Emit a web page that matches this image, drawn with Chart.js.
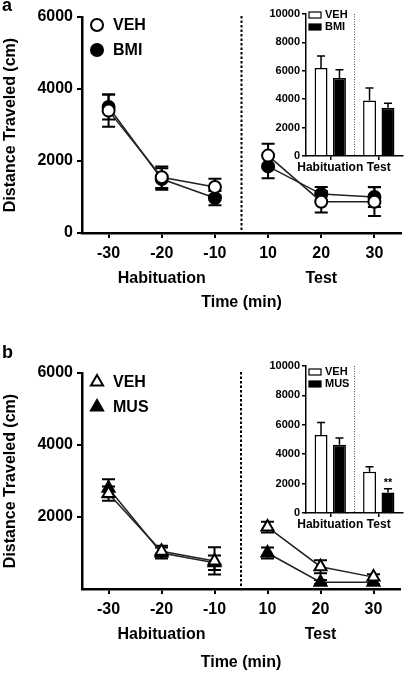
<!DOCTYPE html>
<html>
<head>
<meta charset="utf-8">
<script src="https://cdn.jsdelivr.net/npm/chart.js@4/dist/chart.umd.min.js"></script>
<style>
body { margin: 0; background: #fff; width: 409px; height: 675px; position: relative; overflow: hidden; }
canvas { position: absolute; }
</style>
</head>
<body>
<canvas id="mainA" width="409" height="320" style="left:0;top:0"></canvas>
<canvas id="insetA" width="159" height="180" style="left:250px;top:0"></canvas>
<canvas id="mainB" width="409" height="335" style="left:0;top:340px"></canvas>
<canvas id="insetB" width="159" height="185" style="left:250px;top:352px"></canvas>
<script>
// time points (min) and groups
const timeLabels = ['-30', '-20', '-10', '10', '20', '30'];
const groupLabels = ['Habituation', 'Test'];
const groupMembers = [[0, 1, 2], [3, 4, 5]];
const breakAfter = 2;
const yTicksA = [0, 2000, 4000, 6000];
const yTicksB = [2000, 4000, 6000];
const insetTicks = [0, 2000, 4000, 6000, 8000, 10000];

// panel a
const vehA = [3400, 1550, 1280, 2150, 870, 870];
const vehAErr = [450, 300, 230, 330, 300, 400];
const bmiA = [3500, 1500, 970, 1850, 1080, 1000];
const bmiAErr = [350, 300, 200, 330, 200, 280];
const vehAInset = [6200, 3900];
const vehAInsetErr = [850, 880];
const bmiAInset = [5500, 3400];
const bmiAInsetErr = [580, 320];

// panel b
const vehB = [2650, 1050, 780, 1720, 620, 330];
const vehBErr = [200, 150, 380, 150, 180, 80];
const musB = [2800, 1000, 730, 1000, 190, 190];
const musBErr = [250, 150, 200, 150, 60, 60];
const vehBInset = [5300, 2800];
const vehBInsetErr = [850, 350];
const musBInset = [4650, 1400];
const musBInsetErr = [450, 250];
const musBInsetMarks = ['', '**'];

Chart.defaults.font.family = '"Liberation Sans", Arial, sans-serif';
Chart.defaults.font.weight = 'bold';
Chart.defaults.color = '#000';

function drawMarker(ctx, style, filled, x, y, r) {
    ctx.beginPath();
    if (style === 'triangle') {
        for (let k = 0; k < 3; k++) {
            const a = k * 2 * Math.PI / 3;
            const px = x + Math.sin(a) * r, py = y - Math.cos(a) * r;
            k ? ctx.lineTo(px, py) : ctx.moveTo(px, py);
        }
        ctx.closePath();
    } else {
        ctx.arc(x, y, r, 0, Math.PI * 2);
    }
    ctx.fillStyle = filled ? '#000' : '#fff';
    ctx.fill();
    ctx.lineWidth = 2;
    ctx.strokeStyle = '#000';
    ctx.stroke();
}

const errorBars = {
    id: 'errorBars',
    beforeDatasetsDraw(chart, args, opts) {
        const ctx = chart.ctx;
        const y = chart.scales.y;
        chart.data.datasets.forEach((ds, i) => {
            const meta = chart.getDatasetMeta(i);
            ctx.save();
            ctx.strokeStyle = '#000';
            ctx.lineWidth = opts.lineWidth;
            meta.data.forEach((el, j) => {
                const v = ds.data[j], e = ds.errors[j];
                const top = y.getPixelForValue(v + e);
                const bot = opts.upOnly ? y.getPixelForValue(v) : y.getPixelForValue(v - e);
                const w = opts.cap / 2;
                ctx.beginPath();
                ctx.moveTo(el.x, bot); ctx.lineTo(el.x, top);
                ctx.moveTo(el.x - w, top); ctx.lineTo(el.x + w, top);
                if (!opts.upOnly) { ctx.moveTo(el.x - w, bot); ctx.lineTo(el.x + w, bot); }
                ctx.stroke();
                if (ds.marks && ds.marks[j]) {
                    ctx.fillStyle = '#000';
                    ctx.font = 'bold 11px "Liberation Sans", Arial, sans-serif';
                    ctx.textAlign = 'center';
                    ctx.textBaseline = 'middle';
                    ctx.fillText(ds.marks[j], el.x, top - 6);
                }
            });
            ctx.restore();
        });
    }
};

const decorations = {
    id: 'decorations',
    afterDraw(chart, args, opts) {
        const ctx = chart.ctx;
        const x = chart.scales.x, area = chart.chartArea;
        ctx.save();
        // divider between habituation and test
        const dx = (x.getPixelForValue(breakAfter) + x.getPixelForValue(breakAfter + 1)) / 2;
        ctx.strokeStyle = '#000';
        ctx.lineWidth = 2;
        ctx.setLineDash([2.5, 2]);
        ctx.beginPath();
        ctx.moveTo(dx, area.top - 1);
        ctx.lineTo(dx, area.bottom);
        ctx.stroke();
        ctx.setLineDash([]);
        // group labels under tick labels
        ctx.fillStyle = '#000';
        ctx.font = 'bold 16px "Liberation Sans", Arial, sans-serif';
        ctx.textAlign = 'center';
        ctx.textBaseline = 'middle';
        groupLabels.forEach((g, k) => {
            const m = groupMembers[k];
            const cx = (x.getPixelForValue(m[0]) + x.getPixelForValue(m[m.length - 1])) / 2;
            ctx.fillText(g, cx, area.bottom + 46);
        });
        // panel letter
        ctx.font = 'bold 18px "Liberation Sans", Arial, sans-serif';
        ctx.textAlign = 'left';
        ctx.fillText(opts.letter, 2, opts.letterY);
        // legend
        ctx.font = 'bold 16px "Liberation Sans", Arial, sans-serif';
        chart.data.datasets.forEach((ds, i) => {
            const ly = area.top + opts.legendY + i * 25;
            drawMarker(ctx, ds.pointStyle, ds.pointBackgroundColor === '#000', area.left + 15, ly, ds.pointStyle === 'triangle' ? 7 : 6);
            ctx.fillStyle = '#000';
            ctx.fillText(ds.label, area.left + 31, ly + 1);
        });
        ctx.restore();
    }
};

const insetDecor = {
    id: 'insetDecor',
    afterDraw(chart, args, opts) {
        const ctx = chart.ctx, area = chart.chartArea;
        ctx.save();
        const mid = (area.left + area.right) / 2;
        ctx.strokeStyle = '#555';
        ctx.lineWidth = 1;
        ctx.setLineDash([1, 1.5]);
        ctx.beginPath();
        ctx.moveTo(mid, area.top);
        ctx.lineTo(mid, area.bottom);
        ctx.stroke();
        ctx.setLineDash([]);
        ctx.font = 'bold 11px "Liberation Sans", Arial, sans-serif';
        ctx.textBaseline = 'middle';
        ctx.textAlign = 'left';
        chart.data.datasets.forEach((ds, i) => {
            const ly = area.top + opts.legendY + i * 12;
            ctx.fillStyle = ds.backgroundColor;
            ctx.fillRect(area.left + 3, ly - 3, 12, 6);
            ctx.strokeStyle = '#000';
            ctx.lineWidth = 1.2;
            ctx.strokeRect(area.left + 3, ly - 3, 12, 6);
            ctx.fillStyle = '#000';
            ctx.fillText(ds.label, area.left + 19, ly);
        });
        ctx.restore();
    }
};

function lineSet(label, data, errors, style, fill) {
    return {
        label, data, errors,
        pointStyle: style,
        pointRadius: style === 'triangle' ? 7 : 6,
        pointBorderWidth: 2,
        pointBorderColor: '#000',
        pointBackgroundColor: fill ? '#000' : '#fff',
        borderColor: '#222',
        borderWidth: 1.5,
        segment: { borderColor: c => c.p0DataIndex === breakAfter ? 'rgba(0,0,0,0)' : '#222' }
    };
}

function makeMain(id, sets, yTicks, cfg) {
    new Chart(document.getElementById(id), {
        type: 'line',
        data: { labels: timeLabels, datasets: sets },
        options: {
            responsive: false,
            animation: false,
            layout: { padding: { top: cfg.top, right: 2, bottom: 0, left: 0 } },
            plugins: {
                legend: { display: false },
                tooltip: { enabled: false },
                errorBars: { lineWidth: 2, cap: 13, upOnly: false },
                decorations: { letter: cfg.letter, letterY: cfg.letterY, legendY: cfg.legendY }
            },
            scales: {
                x: {
                    type: 'category',
                    offset: true,
                    afterFit: s => { s.height = cfg.xHeight; },
                    grid: { drawOnChartArea: false, offset: false, tickLength: 5, color: '#000', lineWidth: 2 },
                    border: { color: '#000', width: 2.5 },
                    ticks: { font: { size: 16 }, padding: 6, autoSkip: false, maxRotation: 0 },
                    title: { display: true, text: 'Time (min)', font: { size: 16 }, padding: { top: 0, bottom: cfg.titlePad } }
                },
                y: {
                    min: 0, max: 6000,
                    afterFit: s => { s.width = 82; },
                    afterBuildTicks: s => { s.ticks = yTicks.map(v => ({ value: v })); },
                    grid: { drawOnChartArea: false, tickLength: 5, color: '#000', lineWidth: 2 },
                    border: { color: '#000', width: 2.5 },
                    ticks: { font: { size: 16 }, padding: 4, callback: v => String(v) },
                    title: { display: true, text: 'Distance Traveled (cm)', font: { size: 16 }, padding: { top: 1, bottom: 0 } }
                }
            }
        },
        plugins: [errorBars, decorations]
    });
}

function barSet(label, data, errors, fill, marks) {
    return {
        label, data, errors, marks,
        backgroundColor: fill,
        borderColor: '#000',
        borderWidth: 1.5,
        barPercentage: 0.7,
        categoryPercentage: 0.76
    };
}

function makeInset(id, sets, cfg) {
    new Chart(document.getElementById(id), {
        type: 'bar',
        data: { labels: groupLabels, datasets: sets },
        options: {
            responsive: false,
            animation: false,
            layout: { padding: { top: 14, right: 6, bottom: 0, left: 0 } },
            plugins: {
                legend: { display: false },
                tooltip: { enabled: false },
                errorBars: { lineWidth: 1.5, cap: 8, upOnly: true },
                insetDecor: { legendY: cfg.legendY }
            },
            scales: {
                x: {
                    afterFit: s => { s.height = 24; },
                    grid: { drawOnChartArea: false, offset: false, tickLength: 4, color: '#000', lineWidth: 1.5 },
                    border: { color: '#000', width: 1.5 },
                    ticks: { font: { size: 12 }, padding: 0, autoSkip: false, maxRotation: 0 }
                },
                y: {
                    min: 0, max: 10000,
                    afterFit: s => { s.width = 56; },
                    afterBuildTicks: s => { s.ticks = insetTicks.map(v => ({ value: v })); },
                    grid: { drawOnChartArea: false, tickLength: 4, color: '#000', lineWidth: 1.5 },
                    border: { color: '#000', width: 1.5 },
                    ticks: { font: { size: 11 }, padding: 2, callback: v => String(v) }
                }
            }
        },
        plugins: [errorBars, insetDecor]
    });
}

makeMain('mainA', [
    lineSet('VEH', vehA, vehAErr, 'circle', false),
    lineSet('BMI', bmiA, bmiAErr, 'circle', true)
], yTicksA, { top: 17, xHeight: 87, titlePad: 7.4, letter: 'a', letterY: 6, legendY: 8 });

makeInset('insetA', [
    barSet('VEH', vehAInset, vehAInsetErr, '#fff'),
    barSet('BMI', bmiAInset, bmiAInsetErr, '#000')
], { legendY: 1 });

makeMain('mainB', [
    lineSet('VEH', vehB, vehBErr, 'triangle', false),
    lineSet('MUS', musB, musBErr, 'triangle', true)
], yTicksB, { top: 33, xHeight: 86, titlePad: 2.4, letter: 'b', letterY: 13, legendY: 9 });

makeInset('insetB', [
    barSet('VEH', vehBInset, vehBInsetErr, '#fff'),
    barSet('MUS', musBInset, musBInsetErr, '#000', musBInsetMarks)
], { legendY: 6 });
</script>
</body>
</html>
